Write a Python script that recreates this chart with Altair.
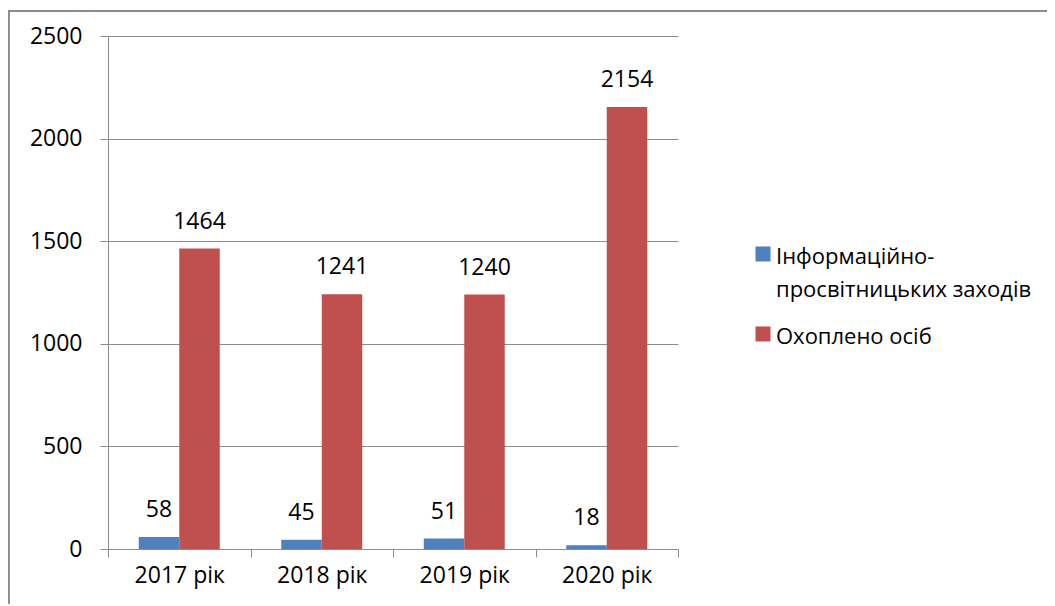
import altair as alt
import pandas as pd

years = ["2017 рік", "2018 рік", "2019 рік", "2020 рік"]
series_names = ["Інформаційно-просвітницьких заходів", "Охоплено осіб"]
events = [58, 45, 51, 18]
people = [1464, 1241, 1240, 2154]
colors = ["#4F81BD", "#C0504D"]
y_ticks = [0, 500, 1000, 1500, 2000, 2500]

rows = []
for i, y in enumerate(years):
    rows.append({"year": y, "series": series_names[0], "value": events[i]})
    rows.append({"year": y, "series": series_names[1], "value": people[i]})
df = pd.DataFrame(rows)

FONT = "Open Sans"
FS = 23
GRAY = "#8C8C8C"

x = alt.X("year:N", sort=years, title=None,
          scale=alt.Scale(paddingInner=0, paddingOuter=0),
          axis=alt.Axis(labelAngle=0, tickBand="extent", ticks=True, tickSize=8,
                        tickColor=GRAY, domainColor=GRAY, labelFontSize=FS,
                        labelFont=FONT, labelColor="#000000", labelPadding=7,
                        grid=False))
y = alt.Y("value:Q", title=None,
          scale=alt.Scale(domain=[0, 2500], nice=False),
          axis=alt.Axis(values=y_ticks, format="d", tickSize=8, tickColor=GRAY,
                        domainColor=GRAY, gridColor=GRAY, grid=True, labelFontSize=FS,
                        labelFont=FONT, labelColor="#000000", labelPadding=18))
xo = alt.XOffset("series:N", sort=series_names,
                 scale=alt.Scale(paddingInner=0, paddingOuter=0.76))

color = alt.Color("series:N", sort=series_names,
                  scale=alt.Scale(domain=series_names, range=colors),
                  legend=alt.Legend(title=None, orient="none", legendX=644, legendY=200,
                                    symbolType="M-1,-0.07H1V1.93H-1Z", symbolSize=225,
                                    symbolStrokeWidth=0,
                                    labelFont=FONT, labelFontSize=22, labelColor="#000000",
                                    labelLimit=400, labelOffset=2, rowPadding=15, padding=0,
                                    labelBaseline="top",
                                    labelExpr="datum.label == 'Інформаційно-просвітницьких заходів' ? ['Інформаційно-', 'просвітницьких заходів'] : datum.label"))

bars = alt.Chart(df).mark_bar().encode(x=x, y=y, xOffset=xo, color=color)
labels = alt.Chart(df).mark_text(font=FONT, fontSize=FS, color="#000000",
                                 baseline="alphabetic", dy=-20).encode(
    x=x, y=y, xOffset=xo, text="value:Q")

frame_top = alt.Chart(df).mark_rule(color=GRAY, strokeWidth=1.5).encode(
    x=alt.value(-100), x2=alt.value(1000), y=alt.value(-25))
frame_left = alt.Chart(df).mark_rule(color=GRAY, strokeWidth=1.5).encode(
    x=alt.value(-99.5), y=alt.value(-25), y2=alt.value(700))

chart = alt.layer(frame_top, frame_left, bars, labels).properties(
    width=570, height=513,
    autosize=alt.AutoSizeParams(type="none"),
    padding={"left": 100, "top": 28, "right": 369, "bottom": 55},
).configure(style={"guide-label": {"lineHeight": 33}}).configure_view(stroke=None)

chart.save("out.html", embed_options={"renderer": "svg", "actions": False})
